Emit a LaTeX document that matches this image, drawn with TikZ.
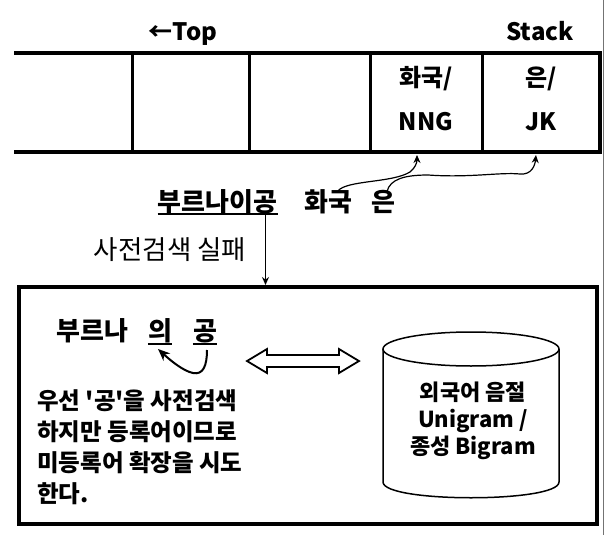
\documentclass[tikz,border=0pt]{standalone}
\usepackage{fontspec}
\newfontfamily\kr{Noto Sans CJK KR}
\usetikzlibrary{arrows.meta}
\begin{document}
\begin{tikzpicture}[x=1pt,y=-1pt,
  lbl/.style={inner sep=0pt, font=\kr\bfseries\fontsize{24}{28}\selectfont},
  celltxt/.style={inner sep=0pt, font=\kr\bfseries\fontsize{24}{28}\selectfont},
  big/.style={inner sep=0pt, font=\kr\bfseries\fontsize{26}{30}\selectfont},
  plain/.style={inner sep=0pt, font=\kr\fontsize{26.5}{30}\selectfont},
  txt/.style={inner sep=0pt, font=\kr\bfseries\fontsize{22}{27}\selectfont},
  para/.style={inner sep=0pt, font=\kr\bfseries\fontsize{23.5}{28}\selectfont},
  heavy/.style={line width=4pt},
  divider/.style={line width=3pt},
  uline/.style={line width=2pt},
  thinarr/.style={line width=1.2pt, -{Stealth[length=8pt,width=7pt]}},
  curl/.style={line width=2pt, -{Stealth[length=12pt,width=10pt]}},
  cyl/.style={line width=1.5pt},
  dblarr/.style={line width=1.8pt, line join=miter}
]
\useasboundingbox (0,0) rectangle (605,535);
\fill[white] (0,0) rectangle (605,535);
\draw[line width=0.6pt, black!55] (603,0) -- (603,535);

% stack
\draw[heavy] (14,53) -- (600,53) -- (600,152) -- (14,152);
\foreach \x in {132,249,370,482} \draw[divider] (\x,53) -- (\x,152);
\node[lbl, anchor=base] (toplbl) at (183,41) {←Top};
\node[lbl, anchor=base] (stklbl) at (540,41) {Stack};
\node[celltxt, anchor=base] (c4a) at (426,86) {화국/};
\node[celltxt, anchor=base] (c4b) at (426,130) {NNG};
\node[celltxt, anchor=base] (c5a) at (541,86) {은/};
\node[celltxt, anchor=base] (c5b) at (541,130) {JK};
\coordinate (t4) at (417,155);
\coordinate (t5) at (536,155);

% input words
\node[big, anchor=base] (w1) at (217.5,211) {부르나이공};
\node[big, anchor=base] (w2) at (328,211) {화국};
\node[big, anchor=base] (w3) at (383,211) {은};
\draw[uline] ([yshift=-3pt]w1.base west) -- ([yshift=-3pt]w1.base east);

\draw[thinarr] ([xshift=10pt,yshift=-2pt]w2.north) .. controls (347,180) and (392,183) .. (410,172) .. controls (415,168) and (417,163) .. (t4);
\draw[thinarr] ([xshift=4pt,yshift=-2pt]w3.north) .. controls (390,179) and (405,175) .. (428,175) .. controls (470,178) and (500,172) .. (520,174) .. controls (532,175) and (535,165) .. (t5);

% box
\node[draw, line width=4pt, minimum width=578pt, minimum height=237pt, inner sep=0pt] (box) at (308,405.5) {};
\coordinate (gongpt) at ([xshift=-12pt,yshift=-3pt]w1.base east);
\draw[thinarr] (gongpt) -- (gongpt |- box.north);
\node[plain, anchor=base] (fail) at (170,259.5) {사전검색 실패};

% inside box
\node[big, anchor=base] (bn) at (92.5,340) {부르나};
\node[big, anchor=base] (ui) at (160,340) {의};
\node[big, anchor=base] (gg) at (205,340) {공};
\draw[uline] ([yshift=-4pt]ui.base west) -- ([yshift=-4pt]ui.base east);
\draw[uline] ([yshift=-4pt]gg.base west) -- ([yshift=-4pt]gg.base east);
\draw[curl] ([xshift=2pt,yshift=-10pt]gg.base) .. controls (207,366) and (203,375) .. (193,373) .. controls (183,371) and (170,360) .. ([xshift=-2pt,yshift=-9pt]ui.base);

% double arrow
\draw[dblarr] (247,361) -- (267,349) -- (267,355) -- (339,355) -- (339,349) -- (359,361) -- (339,373) -- (339,367) -- (267,367) -- (267,373) -- cycle;

% cylinder
\draw[cyl] (383,349) -- (383,482) .. controls (383,503) and (559,503) .. (559,482) -- (559,349);
\draw[cyl] (471,349) ellipse [x radius=88, y radius=17];
\node[txt, align=center] (db) at (473,421) {외국어 음절\\Unigram /\\종성 Bigram};

% paragraph
\node[para, anchor=base west] (p1) at (37,409) {우선 '공'을 사전검색};
\node[para, anchor=base west] (p2) at (37,440) {하지만 등록어이므로};
\node[para, anchor=base west] (p3) at (37,471) {미등록어 확장을 시도};
\node[para, anchor=base west] (p4) at (37,502) {한다.};
\end{tikzpicture}
\end{document}
